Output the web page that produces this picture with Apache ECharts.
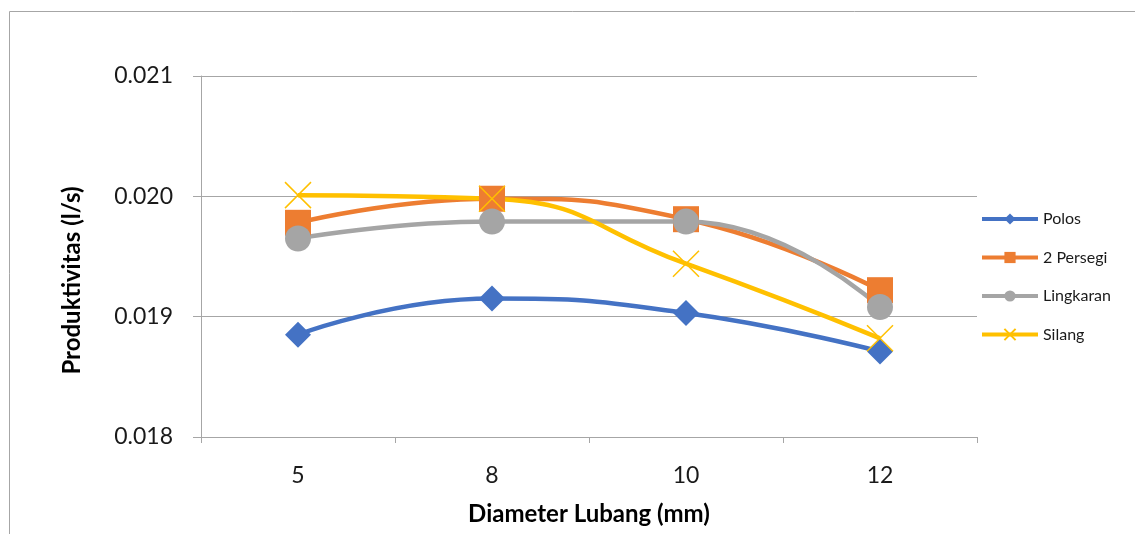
<!DOCTYPE html>
<html>
<head>
<meta charset="utf-8">
<script src="https://cdn.jsdelivr.net/npm/echarts@6/dist/echarts.min.js"></script>
<style>
html,body{margin:0;padding:0;background:#fff;}
#c{width:1135px;height:534px;}
</style>
</head>
<body>
<div id="c"></div>
<script>
const categories = ['5', '8', '10', '12'];
const seriesNames = ['Polos', '2 Persegi', 'Lingkaran', 'Silang'];
const polos = [0.01885, 0.01915, 0.01903, 0.01871];
const persegi = [0.01978, 0.01998, 0.01981, 0.01922];
const lingkaran = [0.01965, 0.01979, 0.01979, 0.01908];
const silang = [0.02001, 0.01998, 0.01944, 0.01882];
const yTicks = { min: 0.018, max: 0.021, interval: 0.001 };
const xTitle = 'Diameter Lubang (mm)';
const yTitle = 'Produktivitas (l/s)';

const FONT = 'Lato, "Open Sans", sans-serif';
const AX = '#a6a6a6';
const colors = ['#4472C4', '#ED7D31', '#A5A5A5', '#FFC000'];
const symbols = ['diamond', 'rect', 'circle', 'path://M0,0L10,10M10,0L0,10'];
const values = [polos, persegi, lingkaran, silang];

const chart = echarts.init(document.getElementById('c'), null, { renderer: 'canvas' });
chart.setOption({
  animation: false,
  backgroundColor: '#fff',
  graphic: [{
    type: 'rect', silent: true, z: -1,
    shape: { x: 9.5, y: 11.5, width: 1300, height: 700 },
    style: { fill: 'none', stroke: AX, lineWidth: 1 }
  }],
  grid: { left: 201, right: 158, top: 76, bottom: 97 },
  legend: {
    orient: 'vertical', left: 975, top: 206,
    itemWidth: 56, itemHeight: 14, itemGap: 22.5,
    lineStyle: { width: 4 },
    textStyle: { fontFamily: FONT, fontSize: 16, color: '#1a1a1a' },
    data: seriesNames
  },
  xAxis: {
    type: 'category', data: categories, boundaryGap: true,
    axisLine: { lineStyle: { color: AX, width: 1 } },
    axisTick: { show: true, length: 6, lineStyle: { color: AX } },
    axisLabel: { fontFamily: FONT, fontSize: 23, color: '#1a1a1a', margin: 27 },
    name: xTitle, nameLocation: 'middle', nameGap: 65,
    nameTextStyle: { fontFamily: FONT, fontSize: 24, fontWeight: 'bold', color: '#000' }
  },
  yAxis: {
    type: 'value', min: yTicks.min, max: yTicks.max, interval: yTicks.interval,
    axisLine: { show: true, lineStyle: { color: AX, width: 1 } },
    axisTick: { show: true, length: 8, lineStyle: { color: AX } },
    splitLine: { show: true, lineStyle: { color: AX, width: 1 } },
    axisLabel: { fontFamily: FONT, fontSize: 23, color: '#1a1a1a', margin: 28,
      formatter: v => v.toFixed(3) },
    name: yTitle, nameLocation: 'middle', nameGap: 117,
    nameTextStyle: { fontFamily: FONT, fontSize: 24, fontWeight: 'bold', color: '#000', padding: [0, 48, 0, 0] }
  },
  series: seriesNames.map((n, i) => ({
    name: n, type: 'line', data: values[i], smooth: true,
    symbol: symbols[i], symbolSize: 26, showSymbol: true,
    lineStyle: { color: colors[i], width: 4.5 },
    itemStyle: i === 3
      ? { color: colors[i], borderColor: colors[i], borderWidth: 1.5 }
      : { color: colors[i], borderWidth: 0 },
    emphasis: { disabled: true }
  }))
});
</script>
</body>
</html>
